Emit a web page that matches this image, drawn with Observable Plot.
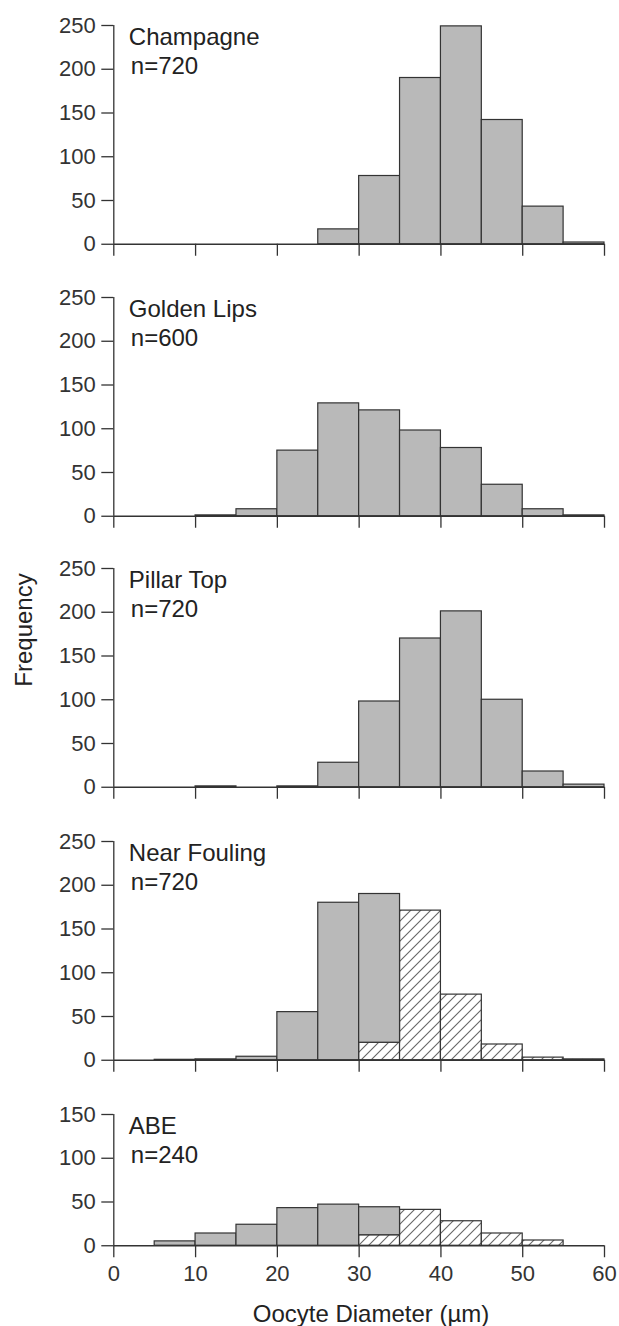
<!DOCTYPE html>
<html>
<head>
<meta charset="utf-8">
<script src="https://cdn.jsdelivr.net/npm/d3@7"></script>
<script src="https://cdn.jsdelivr.net/npm/@observablehq/plot@0.6"></script>
<style>
  body { margin: 0; background: #fff; }
  #fig { position: relative; width: 619px; height: 1326px; font-family: "Liberation Sans", Arial, Helvetica, sans-serif; }
  #fig > div, #fig > svg { position: absolute; left: 0; }
</style>
</head>
<body>
<div id="fig"></div>
<script>
// ---- data ----
const binStarts = [0, 5, 10, 15, 20, 25, 30, 35, 40, 45, 50, 55];
const binWidth = 5;
const panelNames = ["Champagne", "Golden Lips", "Pillar Top", "Near Fouling", "ABE"];
const panelN = ["n=720", "n=600", "n=720", "n=720", "n=240"];

const champagneSolid   = [0, 0, 0, 0, 0, 17, 78, 190, 249, 142, 43, 2];
const goldenLipsSolid  = [0, 0, 1, 8, 75, 129, 121, 98, 78, 36, 8, 1];
const pillarTopSolid   = [0, 0, 1, 0, 1, 28, 98, 170, 201, 100, 18, 3];
const nearFoulingSolid = [0, 0.5, 1, 4, 55, 180, 170, 0, 0, 0, 0, 0];
const nearFoulingHatch = [0, 0, 0, 0, 0, 0, 20, 171, 75, 18, 3, 1];
const abeSolid         = [0, 5, 14, 24, 43, 47, 32, 0, 0, 0, 0, 0];
const abeHatch         = [0, 0, 0, 0, 0, 0, 12, 41, 28, 14, 6, 0];
const noHatch          = [0, 0, 0, 0, 0, 0, 0, 0, 0, 0, 0, 0];

const yTicks250 = [0, 50, 100, 150, 200, 250];
const yTicks150 = [0, 50, 100, 150];
const xTicks = [0, 10, 20, 30, 40, 50, 60];

const xLabel = "Oocyte Diameter (µm)";
const yLabel = "Frequency";

// ---- layout ----
const W = 619;
const mL = 113.3, mR = 15;
const pxPerUnit = 0.875;
const zeroLines = [243.3, 516, 786.7, 1060, 1245];
const ink = "#333";
const fontFamily = '"Liberation Sans", Arial, Helvetica, sans-serif';

const fig = document.getElementById("fig");

function panel(i, solid, hatch, yMax, yTicks, showXLabels) {
  const rows = binStarts.map((x0, j) => ({x0, x1: x0 + binWidth, h: hatch[j], s: solid[j]}));
  const hatchRects = rows.filter(d => d.h > 0).map(d => ({x0: d.x0, x1: d.x1, y1: 0, y2: d.h}));
  const solidRects = rows.filter(d => d.s > 0).map(d => ({x0: d.x0, x1: d.x1, y1: d.h, y2: d.h + d.s}));
  const mt = 10, mb = showXLabels ? 45 : 25;
  const innerH = yMax * pxPerUnit;
  const svg = Plot.plot({
    width: W,
    height: innerH + mt + mb,
    marginTop: mt, marginBottom: mb, marginLeft: mL, marginRight: mR,
    x: {domain: [0, 60]},
    y: {domain: [0, yMax]},
    style: {background: "transparent", color: ink, fontFamily, fontSize: "22px", overflow: "visible"},
    marks: [
      Plot.rect(hatchRects, {x1: "x0", x2: "x1", y1: "y1", y2: "y2", fill: `url(#hatch${i})`, stroke: ink, strokeWidth: 1.2}),
      Plot.rect(solidRects, {x1: "x0", x2: "x1", y1: "y1", y2: "y2", fill: "#b9b9b9", stroke: ink, strokeWidth: 1.2}),
      Plot.ruleY([0], {x1: 0, x2: 60, stroke: ink, strokeWidth: 1.3}),
      Plot.ruleX([0], {y1: 0, y2: yMax, stroke: ink, strokeWidth: 1.3}),
      Plot.axisY({ticks: yTicks, tickSize: 12, tickPadding: 6, label: null, tickFormat: d => String(d), fontSize: 22, strokeWidth: 1.3}),
      Plot.axisX({ticks: xTicks, tickSize: 12, tickPadding: 8, label: null, tickFormat: showXLabels ? (d => String(d)) : (() => ""), fontSize: 22, strokeWidth: 1.3}),
      Plot.text([panelNames[i]], {text: d => d, frameAnchor: "top-left", textAnchor: "start", lineAnchor: "top", dx: 15, dy: 2, fontSize: 24, fill: "#222"}),
      Plot.text([panelN[i]], {text: d => d, frameAnchor: "top-left", textAnchor: "start", lineAnchor: "top", dx: 17, dy: 31, fontSize: 24, fill: "#222"})
    ]
  });
  d3.select(svg).insert("defs", ":first-child").html(
    `<pattern id="hatch${i}" patternUnits="userSpaceOnUse" width="10" height="10">
       <rect width="10" height="10" fill="#fff"/>
       <path d="M-2,2 L2,-2 M0,10 L10,0 M8,12 L12,8" stroke="#666" stroke-width="1.1"/>
     </pattern>`);
  const wrap = document.createElement("div");
  wrap.style.top = (zeroLines[i] - innerH - mt) + "px";
  wrap.appendChild(svg);
  fig.appendChild(wrap);
}

panel(0, champagneSolid, noHatch, 250, yTicks250, false);
panel(1, goldenLipsSolid, noHatch, 250, yTicks250, false);
panel(2, pillarTopSolid, noHatch, 250, yTicks250, false);
panel(3, nearFoulingSolid, nearFoulingHatch, 250, yTicks250, false);
panel(4, abeSolid, abeHatch, 150, yTicks150, true);

// axis titles
const ov = d3.select(fig).append("svg")
  .attr("width", W).attr("height", 1326)
  .style("top", "0px").style("pointer-events", "none")
  .style("font-family", fontFamily).style("font-size", "24px").style("fill", "#222");
ov.append("text").attr("transform", "translate(31.5,630) rotate(-90)").attr("text-anchor", "middle").text(yLabel);
ov.append("text").attr("x", 371).attr("y", 1322).attr("text-anchor", "middle").text(xLabel);
</script>
</body>
</html>
